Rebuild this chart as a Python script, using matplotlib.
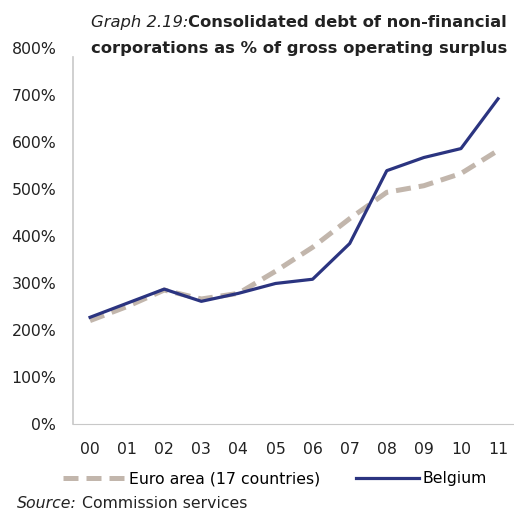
import matplotlib
matplotlib.use("Agg")
from matplotlib import pyplot as plt
from matplotlib.ticker import FuncFormatter

plt.rcParams["font.family"] = ["DejaVu Sans"]

years = ["00", "01", "02", "03", "04", "05", "06", "07", "08", "09", "10", "11"]
euro_area = [220, 250, 285, 266, 278, 325, 376, 437, 493, 507, 533, 582]
belgium = [227, 257, 287, 261, 278, 299, 308, 384, 539, 567, 586, 692]

EURO_COLOR = "#c2b6ac"
BEL_COLOR = "#2b3480"
TEXT = "#222222"

fig = plt.figure(figsize=(5.14, 5.13), dpi=100)
ax = fig.add_axes([73 / 514, 89 / 513, 441 / 514, 376 / 513])

x = range(len(years))
ax.plot(x, euro_area, color=EURO_COLOR, lw=3.6, dashes=(3.0, 1.6),
        label="Euro area (17 countries)")
ax.plot(x, belgium, color=BEL_COLOR, lw=2.3, label="Belgium")

ax.set_xlim(-0.46, 11.43)
ax.set_ylim(0, 800)
ax.set_yticks(range(0, 801, 100))
ax.yaxis.set_major_formatter(FuncFormatter(lambda v, p: f"{v:.0f}%"))
ax.set_xticks(list(x))
ax.set_xticklabels(years)
ax.tick_params(length=0, labelsize=11.3, colors=TEXT)
ax.tick_params(axis="y", pad=12)
ax.tick_params(axis="x", pad=13)

for side in ["top", "right"]:
    ax.spines[side].set_visible(False)
ax.spines["left"].set_color("#c8c8c8")
ax.spines["bottom"].set_color("#c8c8c8")
ax.spines["left"].set_linewidth(1.2)
ax.spines["left"].set_bounds(0, 780)

# title: italic label followed by bold text
renderer = fig.canvas.get_renderer()
t1 = fig.text(91 / 514, 1 - 23 / 513, "Graph 2.19:", style="italic", fontsize=11.8,
              va="center", ha="left", color=TEXT)
bb = t1.get_window_extent(renderer=renderer)
fig.text(bb.x1 / fig.bbox.width, 1 - 23 / 513, "Consolidated debt of non-financial",
         fontweight="bold", fontsize=11.8, va="center", ha="left", color=TEXT)
fig.text(91 / 514, 1 - 48 / 513, "corporations as % of gross operating surplus",
         fontweight="bold", fontsize=11.8, va="center", ha="left", color=TEXT)

fig.legend(loc="center", bbox_to_anchor=(0.535, 1 - 479 / 513), ncol=2, frameon=False,
           fontsize=11.3, handlelength=4.0, handletextpad=0.2, columnspacing=2.3)

t2 = fig.text(17 / 514, 1 - 503 / 513, "Source:", style="italic", fontsize=11.3,
              va="center", ha="left", color=TEXT)
bb = t2.get_window_extent(renderer=renderer)
fig.text(bb.x1 / fig.bbox.width, 1 - 503 / 513, " Commission services", fontsize=11.3,
         va="center", ha="left", color=TEXT)

fig.savefig("out.png", dpi=100)
